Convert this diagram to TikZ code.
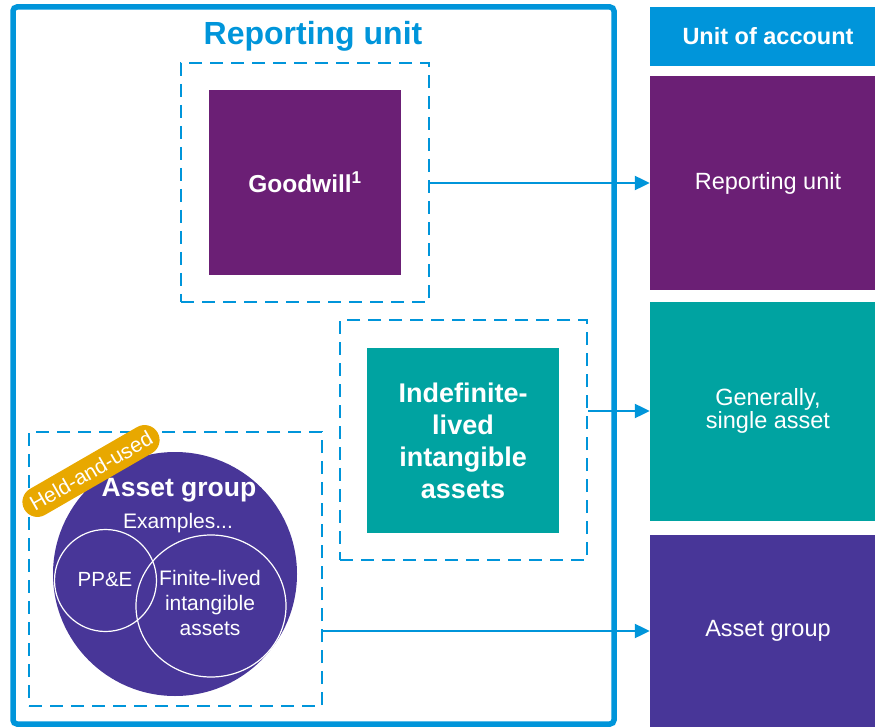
\documentclass[tikz,border=0pt]{standalone}
\usepackage{fontspec}
\setmainfont{Liberation Sans}
\usetikzlibrary{arrows.meta,shapes.geometric}
\definecolor{kblue}{HTML}{0095DA}
\definecolor{kpurple}{HTML}{6B1F75}
\definecolor{kteal}{HTML}{00A3A1}
\definecolor{kindigo}{HTML}{483698}
\definecolor{korange}{HTML}{E8A800}
\tikzset{
  dashbox/.style={draw=kblue, line width=2.4pt, dash pattern=on 13pt off 8pt, inner sep=0pt},
  fillbox/.style={inner sep=0pt, text=white, align=center},
  rbox/.style={fillbox, minimum width=236pt},
  arr/.style={draw=kblue, line width=2.2pt, -{Triangle[length=15pt,width=14pt]}},
  wcirc/.style={draw=white, line width=1.2pt, inner sep=0pt},
}
\begin{document}
\begin{tikzpicture}[x=1pt,y=-1pt]
\useasboundingbox (0,0) rectangle (875,727);
% outer reporting unit frame
\draw[kblue, line width=5.5pt, rounded corners=4pt] (13,7) rectangle (614,724);
\node[text=kblue, font=\fontsize{32}{36}\selectfont\bfseries] (rutitle) at (313,36) {Reporting unit};
% right column
\node[rbox, fill=kblue, minimum height=59pt, font=\fontsize{23.5}{28}\selectfont\bfseries] (uoa) at (768,36.5) {Unit of account};
\node[rbox, fill=kpurple, minimum height=214pt, font=\fontsize{23.5}{28}\selectfont] (ruR) at (768,183) {Reporting unit};
\node[rbox, fill=kteal, minimum height=219pt, font=\fontsize{23.5}{21}\selectfont] (gsa) at (768,411) {Generally,\\ single asset};
\node[rbox, fill=kindigo, minimum height=192pt, font=\fontsize{23.5}{28}\selectfont] (agR) at (768,631) {Asset group};
% goodwill
\node[dashbox, minimum width=248pt, minimum height=239pt] (gwdash) at (305,182.5) {};
\node[fillbox, fill=kpurple, minimum width=192pt, minimum height=185pt, font=\fontsize{24.5}{28}\selectfont\bfseries] (gw) at (305,182.5) {Goodwill\textsuperscript{1}};
% indefinite-lived
\node[dashbox, minimum width=247pt, minimum height=240pt] (idash) at (463.5,440) {};
\node[fillbox, fill=kteal, minimum width=192pt, minimum height=185pt, font=\fontsize{27}{32}\selectfont\bfseries] (ind) at (463,440.5) {Indefinite-\\lived\\intangible\\assets};
% asset group
\node[dashbox, minimum width=293pt, minimum height=274pt] (agdash) at (175.5,569) {};
\node[circle, fill=kindigo, minimum size=244pt, inner sep=0pt] (big) at (175,574) {};
\node[wcirc, circle, minimum size=102pt] (ppe) at (105.5,580.5) {};
\node[wcirc, ellipse, minimum width=150pt, minimum height=142pt] (fin) at (211,606) {};
\node[text=white, font=\fontsize{26.5}{30}\selectfont\bfseries] (agt) at (179,490) {Asset group};
\node[text=white, font=\fontsize{21}{24}\selectfont] (ex) at (178,523) {Examples...};
\node[text=white, font=\fontsize{20.5}{24}\selectfont] (ppet) at (105,580) {PP\&E};
\node[text=white, align=center, font=\fontsize{21}{25}\selectfont] (fint) at (210,603) {Finite-lived\\intangible\\assets};
\node[fill=korange, text=white, rounded corners=15pt, rotate=30, minimum height=30pt, inner ysep=0pt, inner xsep=8pt, font=\fontsize{21}{24}\selectfont] (held) at (91,471) {Held-and-used};
% arrows
\draw[arr] (gwdash.east |- ruR.west) -- (ruR.west);
\draw[arr] (idash.east |- gsa.west) -- (gsa.west);
\draw[arr] (agdash.east |- agR.west) -- (agR.west);
\end{tikzpicture}
\end{document}
